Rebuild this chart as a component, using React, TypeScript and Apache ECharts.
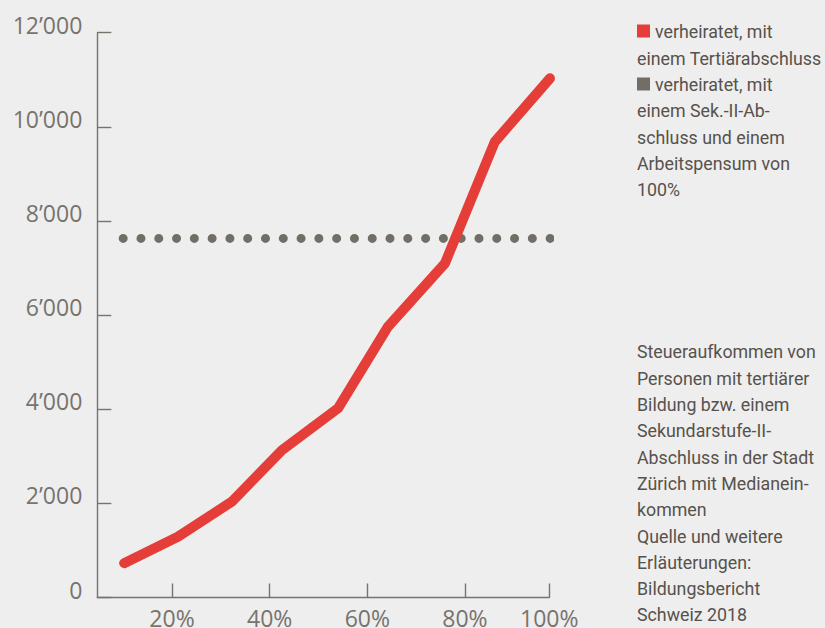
import React, { useEffect, useRef } from 'react';
import * as echarts from 'echarts';

// x positions are read in the scale of the axis tick labels (percent)
const percentiles = [10.2, 21.2, 32.3, 42.5, 54.0, 64.2, 75.9, 86.1, 97.4];
const tertiaryTax = [730, 1290, 2040, 3130, 4020, 5750, 7100, 9680, 11030];
const secondaryRange = [10.0, 97.45];
const secondaryTax = 7630;

const xMin = 4.7;
const xMax = 97.27;
const xTickValues = [20, 40, 60, 80, 97.27];
const xTickLabels = ['20%', '40%', '60%', '80%', '100%'];
const yMin = 0;
const yMax = 12000;
const yInterval = 2000;

const seriesNames = [
  'verheiratet, mit einem Tertiärabschluss',
  'verheiratet, mit einem Sek.-II-Abschluss und einem Arbeitspensum von 100%',
];
const legend1Lines = ['verheiratet, mit', 'einem Tertiärabschluss'];
const legend2Lines = ['verheiratet, mit', 'einem Sek.-II-Ab-', 'schluss und einem', 'Arbeitspensum von', '100%'];
const noteLines = [
  'Steueraufkommen von',
  'Personen mit tertiärer',
  'Bildung bzw. einem',
  'Sekundarstufe-II-',
  'Abschluss in der Stadt',
  'Zürich mit Medianein-',
  'kommen',
  'Quelle und weitere',
  'Erläuterungen:',
  'Bildungsbericht',
  'Schweiz 2018',
];

const RED = '#e53d37';
const GRAY = '#726d67';
const AXIS = '#77736d';
const TEXT = '#57524c';
const BG = '#eeeeee';
const LH = 26.3;
const sideFont = 'Roboto, "Noto Sans", sans-serif';

function fmtThousands(v: number): string {
  return String(v).replace(/\B(?=(\d{3})+(?!\d))/g, '\u2019');
}

export default function App() {
  const ref = useRef<HTMLDivElement>(null);

  useEffect(() => {
    if (!ref.current) return;
    const chart = echarts.init(ref.current, null, { renderer: 'svg' });

    const sideText = (x: number, y: number, lines: string[]) => ({
      type: 'text',
      x,
      y,
      style: {
        text: lines.join('\n'),
        fontSize: 17.8,
        fontFamily: sideFont,
        fill: TEXT,
        lineHeight: LH,
        verticalAlign: 'top',
        align: 'left',
      },
    });

    chart.setOption({
      animation: false,
      backgroundColor: BG,
      grid: {
        left: 97.3,
        right: 825 - 549.3,
        top: 32.7,
        bottom: 628 - 597.5,
        containLabel: false,
        outerBoundsMode: 'none',
      },
      xAxis: {
        type: 'value',
        min: xMin,
        max: xMax,
        splitLine: { show: false },
        axisLine: { show: true, lineStyle: { color: AXIS, width: 1.4 } },
        axisTick: {
          show: true,
          inside: true,
          length: 14,
          customValues: xTickValues,
          lineStyle: { color: AXIS, width: 1.4 },
        },
        axisLabel: {
          customValues: xTickValues,
          margin: 9,
          fontSize: 23,
          fontFamily: '"Open Sans", sans-serif',
          color: AXIS,
          verticalAlign: 'top',
          formatter: (v: number) => {
            const i = xTickValues.findIndex((t) => Math.abs(t - v) < 0.01);
            return i >= 0 ? xTickLabels[i] : '';
          },
        },
      },
      yAxis: {
        type: 'value',
        min: yMin,
        max: yMax,
        interval: yInterval,
        splitLine: { show: false },
        axisLine: { show: true, lineStyle: { color: AXIS, width: 1.4 } },
        axisTick: { show: true, inside: true, length: 14, lineStyle: { color: AXIS, width: 1.4 } },
        axisLabel: {
          margin: 15,
          fontSize: 23,
          fontFamily: '"Open Sans", sans-serif',
          color: AXIS,
          verticalAlign: 'bottom',
          lineHeight: 16,
          formatter: (v: number) => fmtThousands(v),
        },
      },
      series: [
        {
          name: seriesNames[1],
          type: 'line',
          clip: false,
          symbol: 'none',
          silent: true,
          data: secondaryRange.map((x) => [x, secondaryTax]),
          lineStyle: { color: GRAY, width: 9, type: [0, 17.79], cap: 'round' },
          z: 1,
        },
        {
          name: seriesNames[0],
          type: 'line',
          clip: false,
          symbol: 'none',
          silent: true,
          data: percentiles.map((x, i) => [x, tertiaryTax[i]]),
          lineStyle: { color: RED, width: 10, cap: 'round', join: 'round' },
          z: 2,
        },
      ],
      graphic: [
        { type: 'rect', shape: { x: 637, y: 24.5, width: 13, height: 13 }, style: { fill: RED } },
        sideText(655, 32 - LH / 2, [legend1Lines[0]]),
        sideText(637, 32 + LH / 2, legend1Lines.slice(1)),
        { type: 'rect', shape: { x: 637, y: 77.5, width: 13, height: 13 }, style: { fill: GRAY } },
        sideText(655, 32 + LH * 1.5, [legend2Lines[0]]),
        sideText(637, 32 + LH * 2.5, legend2Lines.slice(1)),
        sideText(637, 352 - LH / 2, noteLines),
      ],
    });

    return () => chart.dispose();
  }, []);

  return (
    <div
      ref={ref}
      style={{ position: 'absolute', left: 0, top: 0, width: 825, height: 628, background: BG }}
    />
  );
}
